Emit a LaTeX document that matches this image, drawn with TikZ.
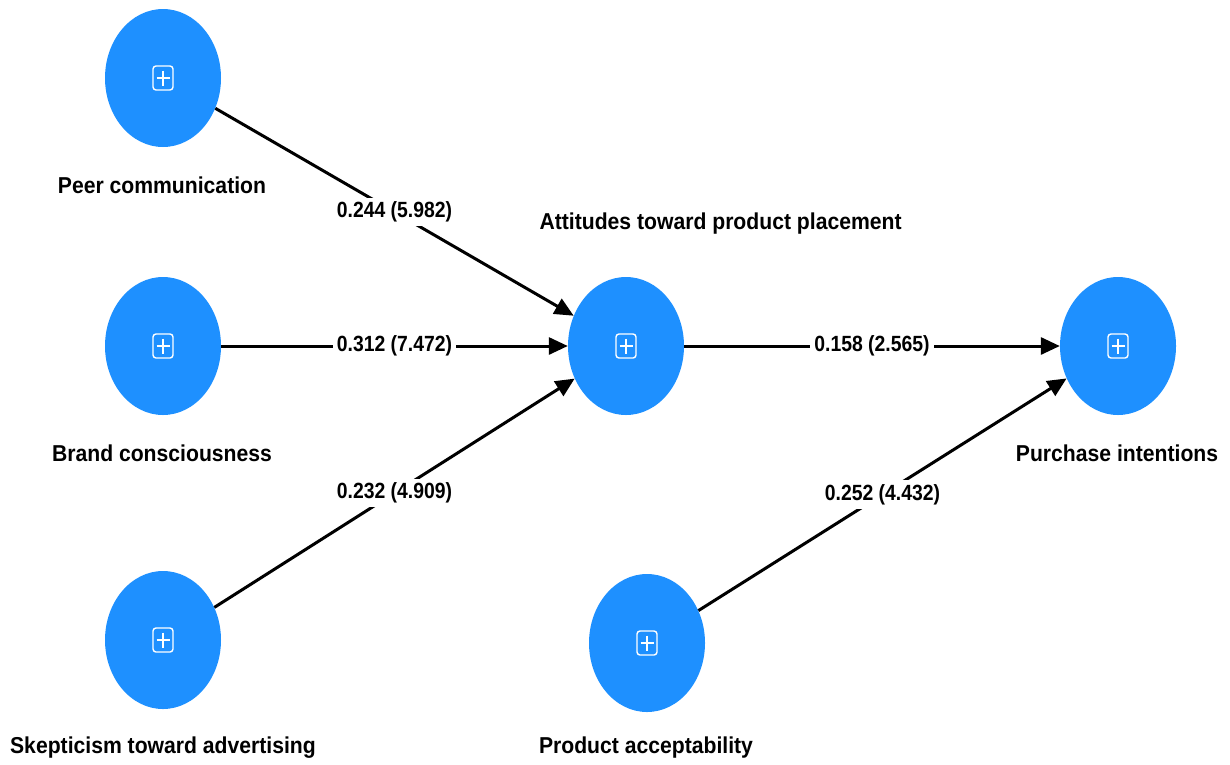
\documentclass[tikz,border=0pt]{standalone}
\usepackage{fontspec}
\setmainfont{Liberation Sans}
\newfontfamily\namefont{Liberation Sans}[FakeStretch=0.92]
\newfontfamily\coeffont{Liberation Sans}[FakeStretch=0.88]
\usetikzlibrary{shapes.geometric,arrows.meta}

\definecolor{lvblue}{RGB}{30,144,255}

\tikzset{
	construct/.style={ellipse, fill=lvblue, minimum width=116pt, minimum height=138pt, inner sep=0pt},
	conname/.style={font=\namefont\fontsize{23}{26}\selectfont\bfseries},
	effect/.style={line width=3pt, -{Triangle[length=19pt,width=17pt]}},
	coef/.style={midway, fill=white, inner sep=4pt, font=\coeffont\fontsize{22}{24}\selectfont\bfseries},
	icon/.style={draw=white, line width=1.4pt, rounded corners=3pt}
}

\begin{document}
\begin{tikzpicture}[x=1pt, y=-1pt]
		\useasboundingbox (0, 0) rectangle (1230, 764);
		\coordinate (P1) at (163, 78);
		\coordinate (P2) at (163, 346);
		\coordinate (P3) at (163, 640);
		\coordinate (P4) at (626, 346);
		\coordinate (P5) at (1118, 346);
		\coordinate (P6) at (647, 643);
		
		\node [construct] (peer) at (P1) {};
		\node [construct] (brand) at (P2) {};
		\node [construct] (skep) at (P3) {};
		\node [construct] (att) at (P4) {};
		\node [construct] (pur) at (P5) {};
		\node [construct] (acc) at (P6) {};
		
		\foreach \c in {peer, brand, skep, att, pur, acc} {
			\draw [icon] ([shift={(-10, -12)}]\c.center) rectangle ([shift={(10, 12)}]\c.center);
			\draw [draw=white, line width=1.4pt] ([shift={(-6.5, 0)}]\c.center) -- ([shift={(6.5, 0)}]\c.center);
			\draw [draw=white, line width=1.4pt] ([shift={(0, -7.5)}]\c.center) -- ([shift={(0, 7.5)}]\c.center);
		}
		
		\node [conname] (peerlbl) at (162, 185) {Peer communication};
		\node [conname] (brandlbl) at (162, 453) {Brand consciousness};
		\node [conname] (skeplbl) at (163, 748) {Skepticism toward advertising};
		\node [conname, anchor=west] (attlbl) at (536, 224) {Attitudes toward product placement};
		\node [conname] (purlbl) at (1117, 453) {Purchase intentions};
		\node [conname] (acclbl) at (646, 748) {Product acceptability};
		
		\draw [effect] (peer) -- node [coef] {0.244 (5.982)} (att);
		\draw [effect] (brand) -- node [coef] {0.312 (7.472)} (att);
		\draw [effect] (skep) -- node [coef] {0.232 (4.909)} (att);
		\draw [effect] (att) -- node [coef] {0.158 (2.565)} (pur);
		\draw [effect] (acc) -- node [coef] {0.252 (4.432)} (pur); %outer path
	\end{tikzpicture}
\end{document}
